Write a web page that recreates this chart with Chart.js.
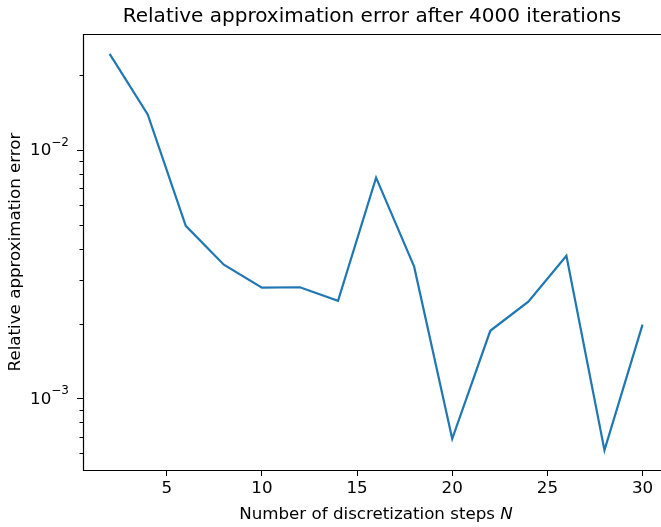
<!DOCTYPE html>
<html>
<head>
<meta charset="utf-8">
<script src="https://cdn.jsdelivr.net/npm/chart.js@4"></script>
<style>
  html, body { margin: 0; padding: 0; background: #fff; overflow: hidden; }
  #wrap { width: 661px; height: 527px; }
</style>
</head>
<body>
<div id="wrap"><canvas id="err-chart" width="661" height="527"></canvas></div>
<script>
const steps = [2, 4, 6, 8, 10, 12, 14, 16, 18, 20, 22, 24, 26, 28, 30]
const errors = [0.0244, 0.0139, 0.00495, 0.00345, 0.00279, 0.00280, 0.00247, 0.00774,
                0.00339, 0.000687, 0.00187, 0.00245, 0.00375, 0.000618, 0.00198]
const xTicks = [5, 10, 15, 20, 25, 30]
const yDecades = [-4, -3, -2, -1]

const font = 'DejaVu Sans'

// 5% margin on the left of x; the right side is cut off at the canvas edge
const xSpan = Math.max(...steps) - Math.min(...steps)
const xMin = Math.min(...steps) - 0.05 * xSpan
const xMax = 30.97
// log axis padded by 5% in log space
const lo = Math.log10(Math.min(...errors))
const hi = Math.log10(Math.max(...errors))
const yMin = Math.pow(10, lo - 0.05 * (hi - lo))
const yMax = Math.pow(10, hi + 0.05 * (hi - lo))

// 1..9 x 10^d for every decade, powers of ten are the major ones
const yTickList = []
yDecades.forEach(d => {
  for (let m = 1; m <= 9; m++) {
    yTickList.push({ value: Number((m * Math.pow(10, d)).toPrecision(3)), major: m === 1 })
  }
})

const framePlugin = {
  id: 'frame',
  afterDraw(chart) {
    const { ctx, chartArea: a, scales } = chart
    const y = scales.y
    const L = Math.round(a.left) + 0.5
    const T = Math.round(a.top) + 0.5
    const B = Math.round(a.bottom) + 0.5
    ctx.save()
    ctx.strokeStyle = '#000'
    ctx.lineWidth = 1.2
    ctx.beginPath()
    ctx.moveTo(chart.width, T)
    ctx.lineTo(L, T)
    ctx.lineTo(L, B)
    ctx.lineTo(chart.width, B)
    ctx.stroke()

    // short minor ticks on the log axis
    ctx.lineWidth = 1
    ctx.beginPath()
    y.ticks.forEach(t => {
      if (t.major) return
      const py = Math.round(y.getPixelForValue(t.value)) + 0.5
      ctx.moveTo(a.left - 3.5, py)
      ctx.lineTo(a.left, py)
    })
    ctx.stroke()

    ctx.fillStyle = '#000'
    ctx.textBaseline = 'middle'

    // decade labels as 10 with a raised exponent
    y.ticks.forEach(t => {
      if (!t.major) return
      const py = y.getPixelForValue(t.value)
      const exp = '\u2212' + String(Math.abs(Math.round(Math.log10(t.value))))
      ctx.font = '12px "' + font + '"'
      const we = ctx.measureText(exp).width
      ctx.textAlign = 'left'
      ctx.fillText(exp, 69 - we, py - 7)
      ctx.font = '16.7px "' + font + '"'
      ctx.textAlign = 'right'
      ctx.fillText('10', 69 - we, py + 1)
    })

    // axis titles, N in italics
    const plain = 'Number of discretization steps '
    ctx.font = '16.7px "' + font + '"'
    const w1 = ctx.measureText(plain).width
    ctx.font = 'italic 16.7px "' + font + '"'
    const w2 = ctx.measureText('N').width
    const tx = 376 - (w1 + w2) / 2
    ctx.textAlign = 'left'
    ctx.font = '16.7px "' + font + '"'
    ctx.fillText(plain, tx, 515)
    ctx.font = 'italic 16.7px "' + font + '"'
    ctx.fillText('N', tx + w1, 515)

    ctx.translate(16, (a.top + a.bottom) / 2)
    ctx.rotate(-Math.PI / 2)
    ctx.textAlign = 'center'
    ctx.font = '16.7px "' + font + '"'
    ctx.fillText('Relative approximation error', 0, 0)
    ctx.restore()
  }
}

const ctx = document.getElementById('err-chart').getContext('2d')
const chart = new Chart(ctx, {
  type: 'line',
  data: {
    datasets: [{
      data: steps.map((n, i) => ({ x: n, y: errors[i] })),
      borderColor: '#1f77b4',
      borderWidth: 2.2,
      pointRadius: 0,
      tension: 0,
      fill: false
    }]
  },
  options: {
    responsive: false,
    animation: false,
    layout: { padding: 0 },
    plugins: {
      legend: { display: false },
      tooltip: { enabled: false },
      title: {
        display: true,
        fullSize: false,
        text: 'Relative approximation error after 4000 iterations',
        color: '#000',
        font: { family: font, size: 20, weight: 'normal' },
        padding: { top: 5, bottom: 5 }
      }
    },
    scales: {
      x: {
        type: 'linear',
        min: xMin,
        max: xMax,
        afterBuildTicks: scale => { scale.ticks = xTicks.map(v => ({ value: v })) },
        afterFit: scale => { scale.height = 57 },
        border: { display: false },
        grid: { display: true, drawOnChartArea: false, tickLength: 6, tickColor: '#000', tickWidth: 1 },
        ticks: { color: '#000', font: { family: font, size: 16.7 }, padding: 3, autoSkip: false, maxRotation: 0 }
      },
      y: {
        type: 'logarithmic',
        min: yMin,
        max: yMax,
        afterBuildTicks: scale => {
          scale.ticks = yTickList.filter(t => t.value >= scale.min && t.value <= scale.max)
                                 .map(t => ({ value: t.value, major: t.major }))
        },
        afterFit: scale => { scale.width = 83 },
        border: { display: false },
        grid: {
          display: true, drawOnChartArea: false, tickLength: 6, tickWidth: 1,
          tickColor: c => (c.tick && c.tick.major) ? '#000' : 'rgba(0,0,0,0)'
        },
        ticks: { autoSkip: false, callback: () => '' }
      }
    }
  },
  plugins: [framePlugin]
})
</script>
</body>
</html>
